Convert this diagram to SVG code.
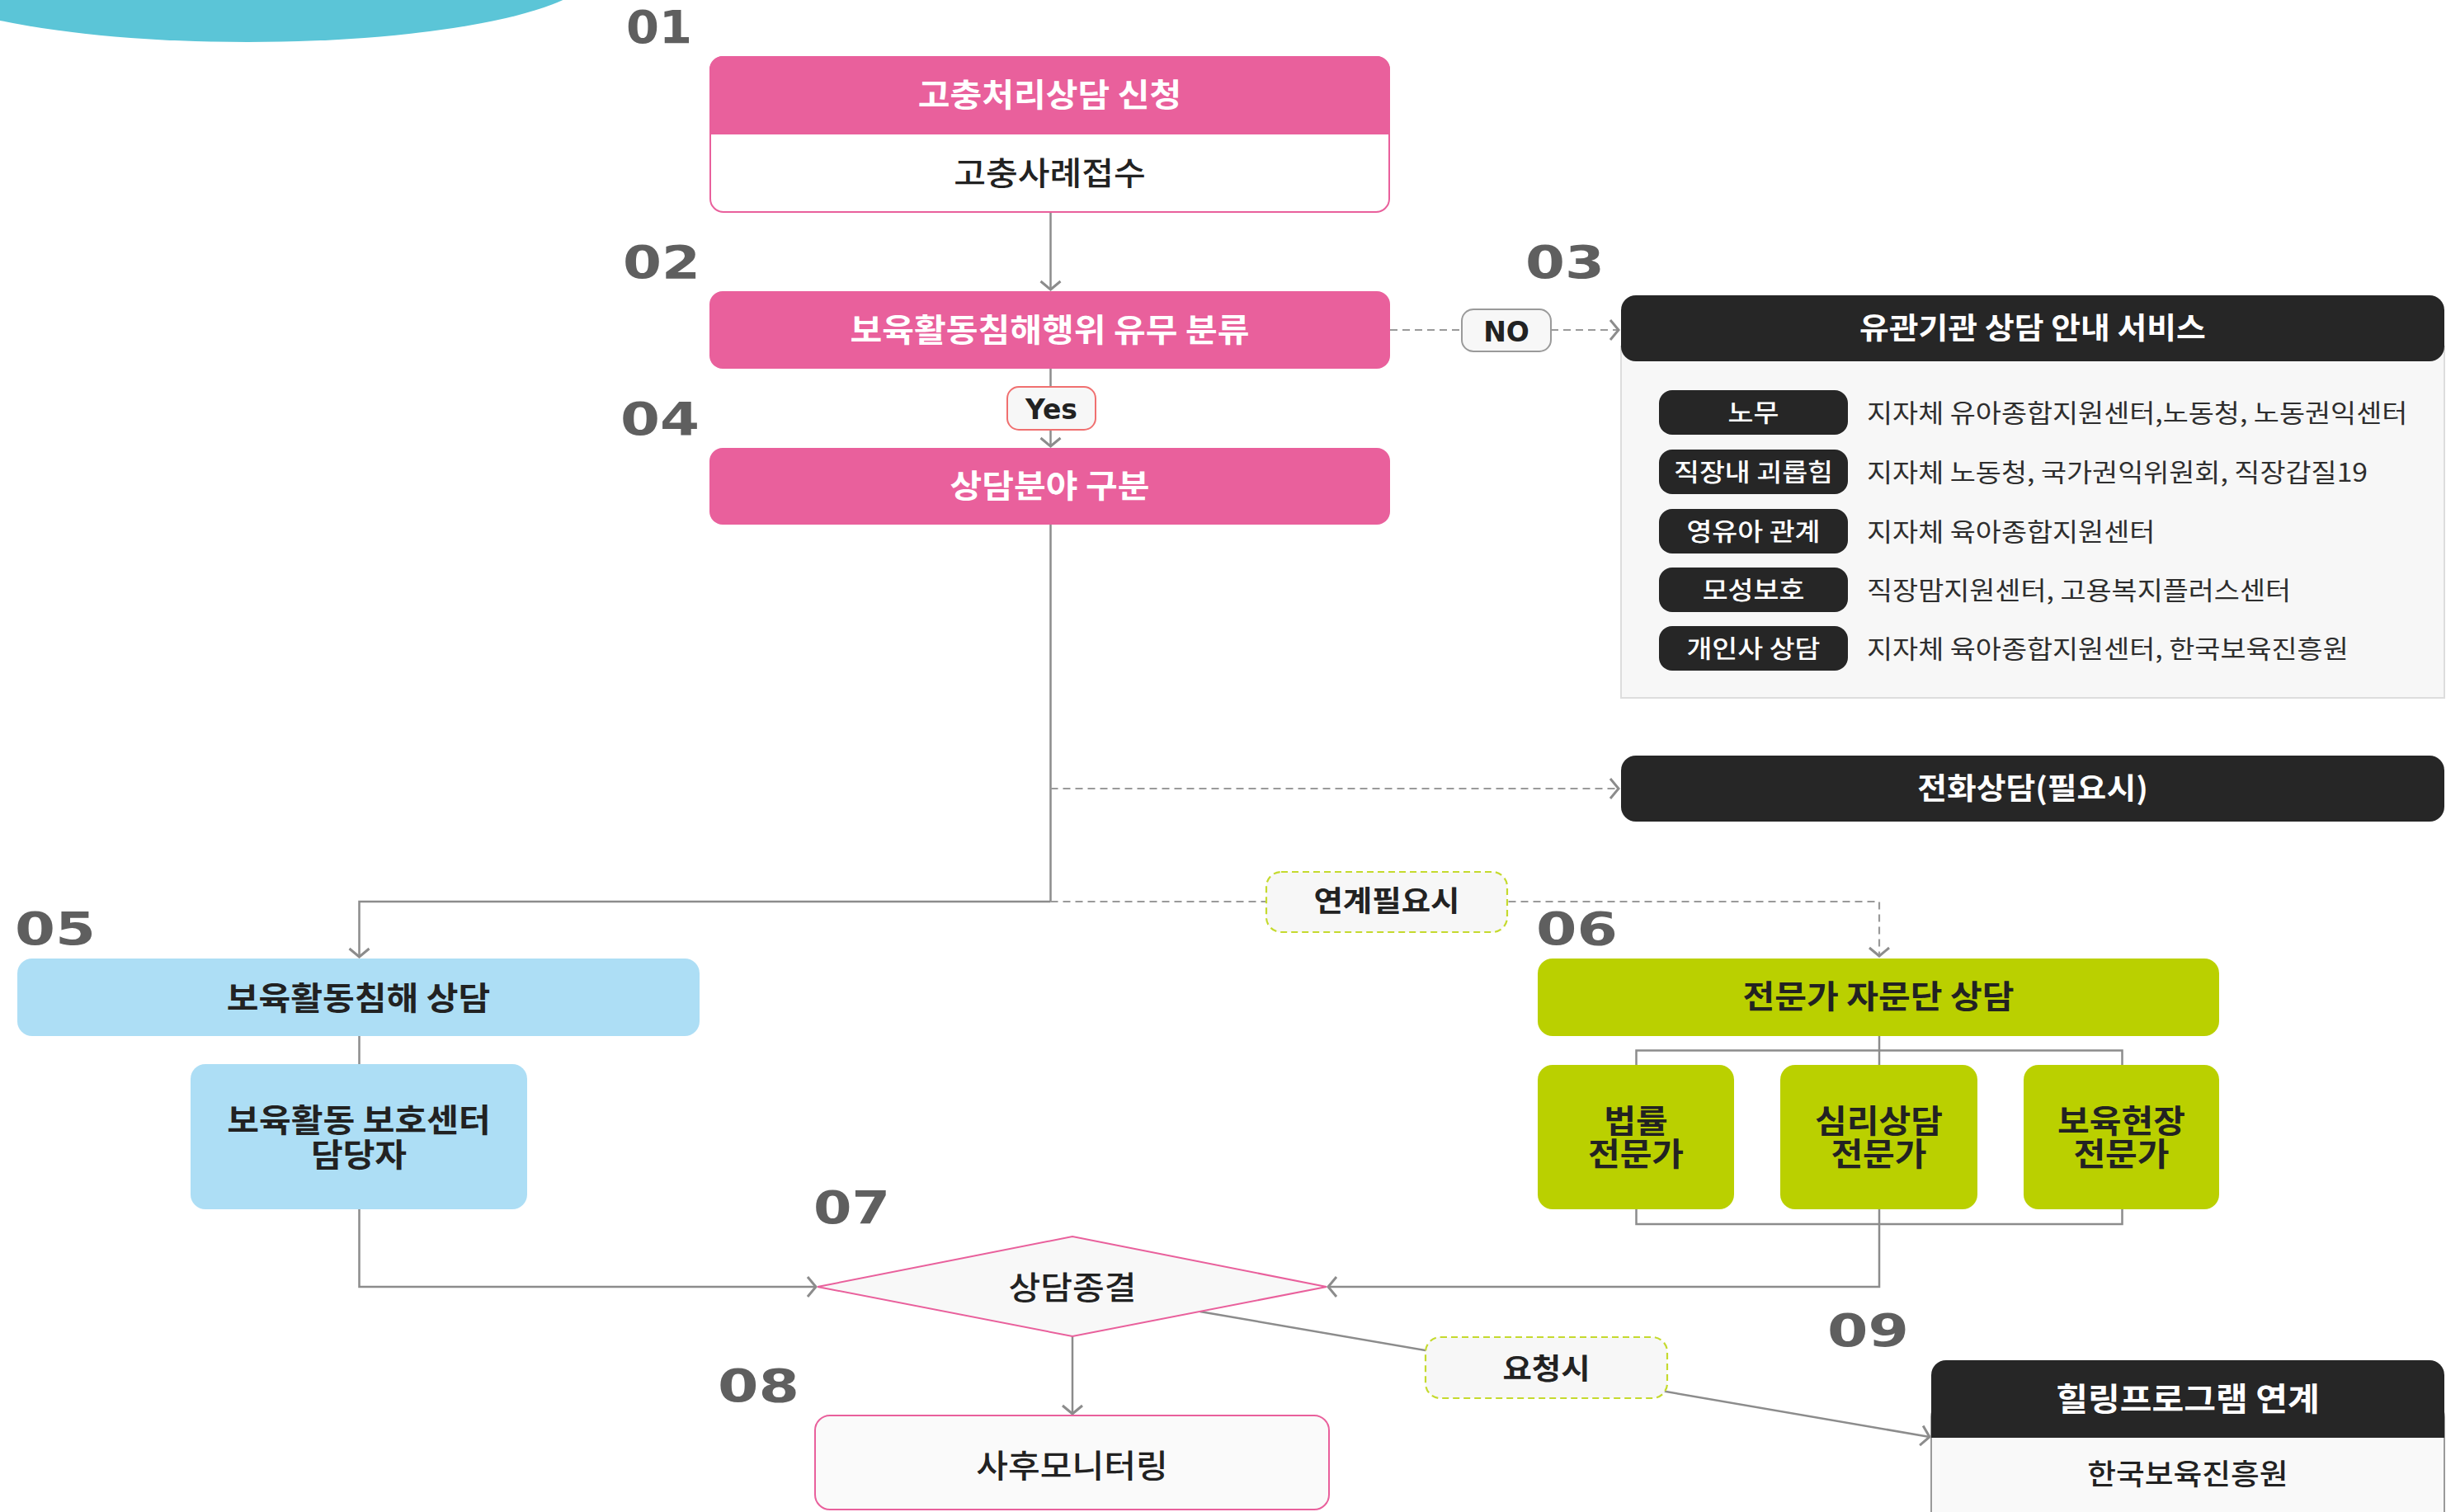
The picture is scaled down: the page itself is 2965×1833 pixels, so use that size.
<svg xmlns="http://www.w3.org/2000/svg" width="2965" height="1833" viewBox="0 0 2965 1833">
<style>
.k{font-family:"Noto Sans CJK KR","Noto Sans",sans-serif;text-anchor:middle;transform-box:fill-box;transform-origin:center;transform:scaleX(1.08)}
.pl{transform:scaleX(1.12)}
.lb{transform:scaleX(1.1)}
.b{font-weight:700}
.m{font-weight:500}
.w{fill:#ffffff}
.d{fill:#222222}
.s39{font-size:39px}
.s36{font-size:36px}
.s35{font-size:35px}
.s30{font-size:30px}
.desc{font-family:"Noto Sans CJK KR","Noto Sans",sans-serif;font-size:31px;fill:#2e2e2e;transform-box:fill-box;transform-origin:left center;transform:scaleX(1.09)}
.step{font-family:"DejaVu Sans",sans-serif;font-weight:700;font-size:55px;fill:#5f5f5f}
.lat{font-family:"DejaVu Sans",sans-serif;font-weight:700;fill:#222222;text-anchor:middle}
.conn{stroke:#8c8c8c;stroke-width:2.5;fill:none}
.dash{stroke:#9a9a9a;stroke-width:2.2;stroke-dasharray:9 6;fill:none}
.pink{fill:#E9609C}
.dark{fill:#262626}
.blue{fill:#ADDEF5}
.lime{fill:#BAD000}
.lbl{fill:#F7F7F7;stroke:#C5DA2E;stroke-width:2.2;stroke-dasharray:8 5}
</style>
<defs>
<marker id="arr" viewBox="-15 -15 30 30" markerWidth="30" markerHeight="30" refX="0" refY="0" orient="auto" markerUnits="userSpaceOnUse">
<path d="M-10,-12 L0,0 L-10,12" fill="none" stroke="#8c8c8c" stroke-width="3" stroke-dasharray="none"/>
</marker>
</defs>

<ellipse cx="300" cy="-36" rx="420" ry="87" fill="#5BC5D7"/>

<g id="steps">
<text class="step" x="759" y="52" textLength="80" lengthAdjust="spacingAndGlyphs">01</text>
<text class="step" x="755" y="337" textLength="94" lengthAdjust="spacingAndGlyphs">02</text>
<text class="step" x="1849" y="337" textLength="96" lengthAdjust="spacingAndGlyphs">03</text>
<text class="step" x="752" y="527" textLength="96" lengthAdjust="spacingAndGlyphs">04</text>
<text class="step" x="18" y="1145" textLength="98" lengthAdjust="spacingAndGlyphs">05</text>
<text class="step" x="1862" y="1145" textLength="99" lengthAdjust="spacingAndGlyphs">06</text>
<text class="step" x="986" y="1483" textLength="93" lengthAdjust="spacingAndGlyphs">07</text>
<text class="step" x="870" y="1699" textLength="99" lengthAdjust="spacingAndGlyphs">08</text>
<text class="step" x="2215" y="1632" textLength="99" lengthAdjust="spacingAndGlyphs">09</text>
</g>

<g id="connectors">
<path class="conn" d="M1273.5,257 V351" marker-end="url(#arr)"/>
<path class="conn" d="M1273.5,447 V541" marker-end="url(#arr)"/>
<path class="dash" d="M1685,400 H1962" marker-end="url(#arr)"/>
<path class="conn" d="M1273.5,636 V1093"/>
<path class="dash" d="M1273.5,956 H1962" marker-end="url(#arr)"/>
<path class="conn" d="M1273.5,1093 H435.5 V1160" marker-end="url(#arr)"/>
<path class="dash" d="M1273.5,1093 H2278 V1159" marker-end="url(#arr)"/>
<path class="conn" d="M435.5,1256 V1290"/>
<path class="conn" d="M435.5,1466 V1560 H989" marker-end="url(#arr)"/>
<path class="conn" d="M2278,1256 V1291"/>
<path class="conn" d="M1983.5,1291 V1273.5 H2572.5 V1291"/>
<path class="conn" d="M1983.5,1466 V1484 H2572.5 V1466"/>
<path class="conn" d="M2278,1466 V1560 H1610" marker-end="url(#arr)"/>
<path class="conn" d="M1300,1620 V1714" marker-end="url(#arr)"/>
<path class="conn" d="M1454.6,1590 L2339,1742" marker-end="url(#arr)"/>
</g>

<g id="labels">
<g id="lbl-no">
<rect x="1772" y="375" width="108" height="51" rx="14" fill="#F7F7F7" stroke="#9a9a9a" stroke-width="2"/>
<text class="lat" x="1826" y="413.5" font-size="33">NO</text>
</g>
<g id="lbl-yes">
<rect x="1221" y="469" width="107" height="52" rx="14" fill="#F7F7F7" stroke="#F07070" stroke-width="2"/>
<text class="lat" x="1274.5" y="507.5" font-size="33">Yes</text>
</g>
<g id="lbl-link">
<rect class="lbl" x="1535" y="1057" width="292" height="73" rx="18"/>
<text class="k lb b d s35" x="1681" y="1105.5">연계필요시</text>
</g>
<g id="lbl-req">
<rect class="lbl" x="1728" y="1621" width="293" height="74" rx="18"/>
<text class="k lb b d s35" x="1874.5" y="1672.5">요청시</text>
</g>
</g>

<g id="n01">
<rect x="861" y="69" width="823" height="188" rx="16" fill="#ffffff" stroke="#E9609C" stroke-width="2"/>
<path class="pink" d="M860,84 a16,16 0 0 1 16,-16 h793 a16,16 0 0 1 16,16 v79 h-825 z"/>
<text class="k b w s39" x="1272.5" y="129.5">고충처리상담 신청</text>
<text class="k m d s39" x="1272.5" y="224">고충사례접수</text>
</g>

<g id="n02">
<rect class="pink" x="860" y="353" width="825" height="94" rx="16"/>
<text class="k b w s39" x="1272.5" y="414">보육활동침해행위 유무 분류</text>
</g>

<g id="n04">
<rect class="pink" x="860" y="543" width="825" height="93" rx="16"/>
<text class="k b w s39" x="1272.5" y="603.5">상담분야 구분</text>
</g>

<g id="n03">
<rect x="1965" y="420" width="998" height="426" fill="#F7F7F7" stroke="#DDDDDD" stroke-width="2"/>
<rect class="dark" x="1965" y="358" width="998" height="80" rx="18"/>
<text class="k b w s36" x="2464" y="411">유관기관 상담 안내 서비스</text>
<rect class="dark" x="2011" y="473" width="229" height="54" rx="16"/>
<rect class="dark" x="2011" y="545" width="229" height="54" rx="16"/>
<rect class="dark" x="2011" y="617" width="229" height="54" rx="16"/>
<rect class="dark" x="2011" y="688" width="229" height="54" rx="16"/>
<rect class="dark" x="2011" y="759" width="229" height="54" rx="16"/>
<text class="k pl m w s30" x="2125.5" y="511">노무</text>
<text class="k pl m w s30" x="2125.5" y="583">직장내 괴롭힘</text>
<text class="k pl m w s30" x="2125.5" y="655">영유아 관계</text>
<text class="k pl m w s30" x="2125.5" y="726">모성보호</text>
<text class="k pl m w s30" x="2125.5" y="797">개인사 상담</text>
<text class="desc" x="2263" y="512">지자체 유아종합지원센터,노동청, 노동권익센터</text>
<text class="desc" x="2263" y="584">지자체 노동청, 국가권익위원회, 직장갑질19</text>
<text class="desc" x="2263" y="656">지자체 육아종합지원센터</text>
<text class="desc" x="2263" y="727">직장맘지원센터, 고용복지플러스센터</text>
<text class="desc" x="2263" y="798">지자체 육아종합지원센터, 한국보육진흥원</text>
</g>

<g id="n-phone">
<rect class="dark" x="1965" y="916" width="998" height="80" rx="18"/>
<text class="k b w s36" x="2464" y="969">전화상담(필요시)</text>
</g>

<g id="n05">
<rect class="blue" x="21" y="1162" width="827" height="94" rx="18"/>
<text class="k b d s39" x="434.5" y="1224">보육활동침해 상담</text>
</g>
<g id="n05-sub">
<rect class="blue" x="231" y="1290" width="408" height="176" rx="18"/>
<text class="k b d s39" x="435" y="1372"><tspan x="435" y="1372">보육활동 보호센터</tspan><tspan x="435" y="1414">담당자</tspan></text>
</g>

<g id="n06">
<rect class="lime" x="1864" y="1162" width="826" height="94" rx="18"/>
<text class="k b d s39" x="2277" y="1222.5">전문가 자문단 상담</text>
</g>
<g id="n06-a">
<rect class="lime" x="1864" y="1291" width="238" height="175" rx="18"/>
<text class="k b d s39" x="1983" y="1373"><tspan x="1983" y="1373">법률</tspan><tspan x="1983" y="1413">전문가</tspan></text>
</g>
<g id="n06-b">
<rect class="lime" x="2158" y="1291" width="239" height="175" rx="18"/>
<text class="k b d s39" x="2277.5" y="1373"><tspan x="2277.5" y="1373">심리상담</tspan><tspan x="2277.5" y="1413">전문가</tspan></text>
</g>
<g id="n06-c">
<rect class="lime" x="2453" y="1291" width="237" height="175" rx="18"/>
<text class="k b d s39" x="2571.5" y="1373"><tspan x="2571.5" y="1373">보육현장</tspan><tspan x="2571.5" y="1413">전문가</tspan></text>
</g>

<g id="n07">
<polygon points="991,1560 1300,1499 1608,1560 1300,1620" fill="#F8F8F8" stroke="#E9609C" stroke-width="2"/>
<text class="k m d s39" x="1300" y="1575">상담종결</text>
</g>

<g id="n08">
<rect x="988" y="1716" width="623" height="114" rx="18" fill="#FAFAFA" stroke="#E9609C" stroke-width="2"/>
<text class="k m d s39" x="1299.5" y="1791.5">사후모니터링</text>
</g>

<g id="n09">
<rect x="2341" y="1700" width="622" height="160" rx="18" fill="#F9F9F9" stroke="#9a9a9a" stroke-width="2"/>
<path class="dark" d="M2341,1667 a18,18 0 0 1 18,-18 h586 a18,18 0 0 1 18,18 v76 h-622 z"/>
<text class="k b w s39" x="2652" y="1710">힐링프로그램 연계</text>
<text class="k m d s35" x="2652" y="1800">한국보육진흥원</text>
</g>
</svg>
